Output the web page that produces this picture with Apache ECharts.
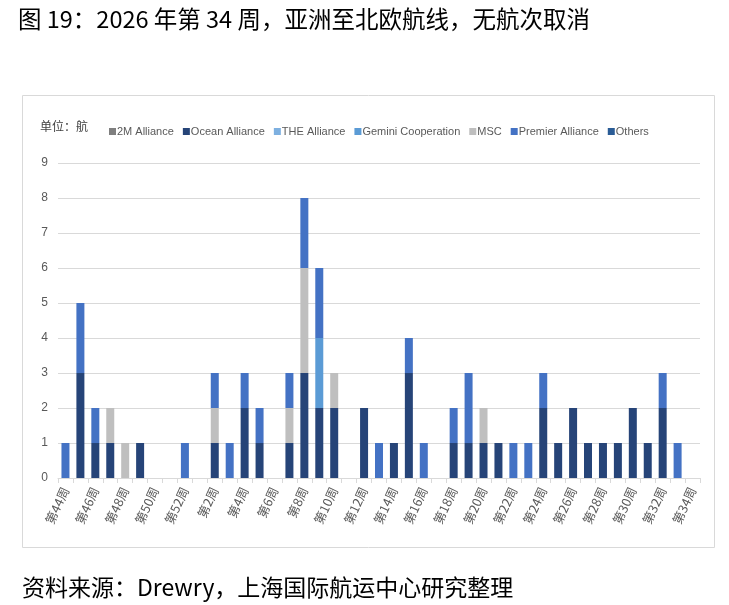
<!DOCTYPE html>
<html><head><meta charset="utf-8">
<script src="https://cdn.jsdelivr.net/npm/echarts@6/dist/echarts.min.js"></script>
<style>html,body{margin:0;padding:0;background:#fff}#c{width:729px;height:605px}</style>
</head><body><div id="c"></div>
<script>
const weeks = ['第44周','第45周','第46周','第47周','第48周','第49周','第50周','第51周','第52周',
 '第1周','第2周','第3周','第4周','第5周','第6周','第7周','第8周','第9周','第10周','第11周','第12周',
 '第13周','第14周','第15周','第16周','第17周','第18周','第19周','第20周','第21周','第22周','第23周',
 '第24周','第25周','第26周','第27周','第28周','第29周','第30周','第31周','第32周','第33周','第34周'];
const seriesNames = ['2M Alliance','Ocean Alliance','THE Alliance','Gemini Cooperation','MSC','Premier Alliance','Others'];
const m2 =      [0,0,0,0,0,0,0,0,0, 0,0,0,0,0,0,0,0,0,0,0,0, 0,0,0,0,0,0,0,0,0,0,0, 0,0,0,0,0,0,0,0,0,0,0];
const ocean =   [0,3,1,1,0,1,0,0,0, 0,1,0,2,1,0,1,3,2,2,0,2, 0,1,3,0,0,1,1,1,1,0,0, 2,1,2,1,1,1,2,1,2,0,0];
const the =     [0,0,0,0,0,0,0,0,0, 0,0,0,0,0,0,0,0,0,0,0,0, 0,0,0,0,0,0,0,0,0,0,0, 0,0,0,0,0,0,0,0,0,0,0];
const gemini =  [0,0,0,0,0,0,0,0,0, 0,0,0,0,0,0,0,0,2,0,0,0, 0,0,0,0,0,0,0,0,0,0,0, 0,0,0,0,0,0,0,0,0,0,0];
const msc =     [0,0,0,1,1,0,0,0,0, 0,1,0,0,0,0,1,3,0,1,0,0, 0,0,0,0,0,0,0,1,0,0,0, 0,0,0,0,0,0,0,0,0,0,0];
const premier = [1,2,1,0,0,0,0,0,1, 0,1,1,1,1,0,1,2,2,0,0,0, 1,0,1,1,0,1,2,0,0,1,1, 1,0,0,0,0,0,0,0,1,1,0];
const others =  [0,0,0,0,0,0,0,0,0, 0,0,0,0,0,0,0,0,0,0,0,0, 0,0,0,0,0,0,0,0,0,0,0, 0,0,0,0,0,0,0,0,0,0,0];
const yTicks = [0,1,2,3,4,5,6,7,8,9];

const values = [m2, ocean, the, gemini, msc, premier, others];
const colors = ['#7F7F7F','#264478','#7EB0E0','#5B9BD5','#BFBFBF','#4472C4','#2A5C96'];
const sans = '"Liberation Sans", Arial, sans-serif';

const chart = echarts.init(document.getElementById('c'));
chart.setOption({
  animation:false,
  color: colors,
  textStyle:{fontFamily:sans},
  graphic:[
    {type:'rect', shape:{x:22.5,y:95.5,width:692,height:452}, style:{fill:'none',stroke:'#D9D9D9',lineWidth:1}, z:-1},
    {type:'text', left:18, top:7, style:{text:'图 19：2026 年第 34 周，亚洲至北欧航线，无航次取消', font:'23.5px "Noto Sans CJK SC", sans-serif', fill:'#000'}},
    {type:'text', left:22, top:576, style:{text:'资料来源：Drewry，上海国际航运中心研究整理', font:'23px "Noto Sans CJK SC", sans-serif', fill:'#000'}},
    {type:'text', left:40, top:120, style:{text:'单位：航', font:'12px "Noto Sans CJK SC", sans-serif', fill:'#404040'}}
  ],
  legend:{
    left:104, top:121, width:620, itemWidth:7, itemHeight:7, itemGap:9, icon:'rect',
    textStyle:{fontSize:11, color:'#595959', padding:[0,0,0,-4], fontFamily:sans},
    data: seriesNames
  },
  grid:{left:58, right:29, top:163, bottom:127, containLabel:false},
  xAxis:{
    type:'category', data: weeks, boundaryGap:true,
    axisLine:{lineStyle:{color:'#D9D9D9'}},
    axisTick:{show:true, interval:0, length:5, lineStyle:{color:'#D9D9D9'}},
    axisLabel:{interval:1, rotate:65, fontSize:12.5, color:'#595959', margin:10,
      fontFamily:'"Noto Sans CJK SC", sans-serif'}
  },
  yAxis:{
    type:'value', min:yTicks[0], max:yTicks[yTicks.length-1], interval:1,
    axisLine:{show:false}, axisTick:{show:false},
    axisLabel:{fontSize:12, color:'#595959', margin:10, fontFamily:sans},
    splitLine:{lineStyle:{color:'#D9D9D9'}}
  },
  series: seriesNames.map((n,i)=>({
    name:n, type:'bar', stack:'total', data: values[i], barWidth:8,
    itemStyle:{color:colors[i]}
  }))
});
</script></body></html>
